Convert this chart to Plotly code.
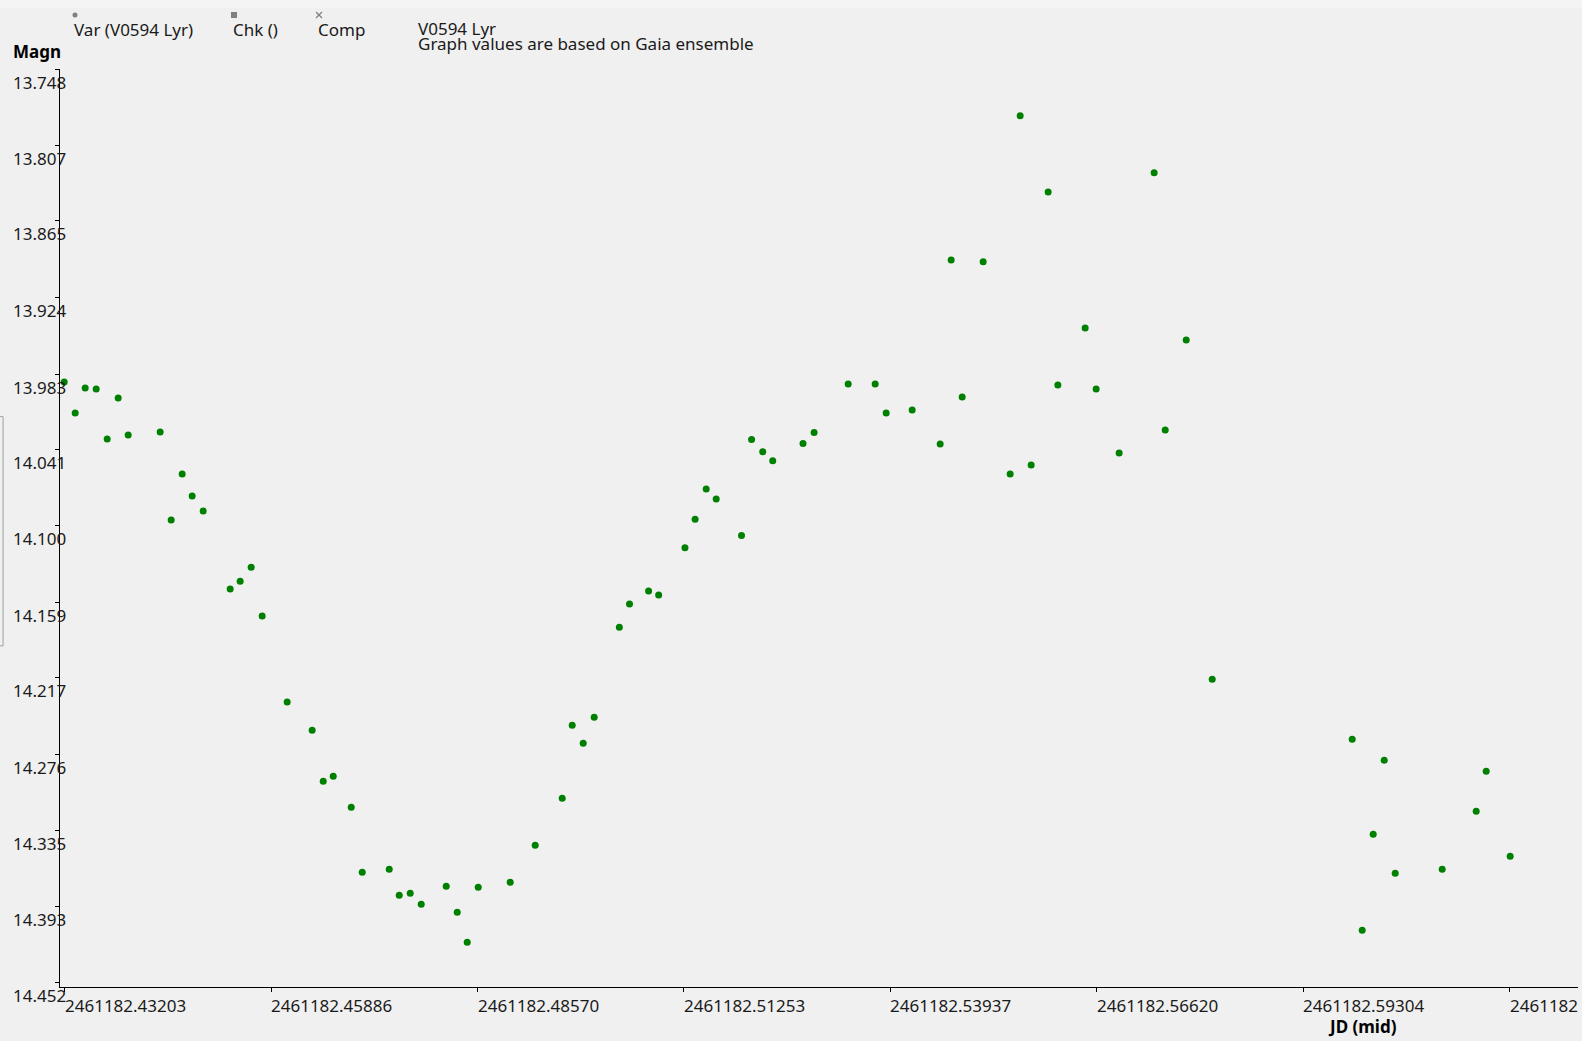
import plotly.graph_objects as go

# Var (V0594 Lyr) measurements: JD (mid) and magnitude
jd = [2461182.43195, 2461182.43338, 2461182.43468, 2461182.43611, 2461182.43754,
      2461182.43897, 2461182.44027, 2461182.44443, 2461182.44586, 2461182.44729,
      2461182.44859, 2461182.45002, 2461182.45353, 2461182.45483, 2461182.45626,
      2461182.45769, 2461182.46094, 2461182.46419, 2461182.46563, 2461182.46693,
      2461182.46927, 2461182.47070, 2461182.47421, 2461182.47551, 2461182.47694,
      2461182.47837, 2461182.48162, 2461182.48305, 2461182.48435, 2461182.48578,
      2461182.48994, 2461182.49319, 2461182.49670, 2461182.49800, 2461182.49943,
      2461182.50086, 2461182.50413, 2461182.50545, 2461182.50793, 2461182.50924,
      2461182.51266, 2461182.51398, 2461182.51542, 2461182.51672, 2461182.52001,
      2461182.52132, 2461182.52277, 2461182.52407, 2461182.52801, 2461182.52945,
      2461182.53388, 2461182.53739, 2461182.53882, 2461182.54220, 2461182.54584,
      2461182.54727, 2461182.54870, 2461182.55143, 2461182.55494, 2461182.55624,
      2461182.55767, 2461182.55988, 2461182.56114, 2461182.56469, 2461182.56612,
      2461182.56911, 2461182.57366, 2461182.57510, 2461182.57783, 2461182.58121,
      2461182.59941, 2461182.60071, 2461182.60214, 2461182.60357, 2461182.60500,
      2461182.61111, 2461182.61553, 2461182.61683, 2461182.61995]

magn = [13.9891, 14.0130, 13.9938, 13.9945, 14.0331, 14.0015, 14.0300, 14.0277,
        14.0955, 14.0601, 14.0770, 14.0886, 14.1487, 14.1426, 14.1318, 14.1695,
        14.2358, 14.2574, 14.2967, 14.2929, 14.3168, 14.3669, 14.3646, 14.3846,
        14.3831, 14.3916, 14.3777, 14.3977, 14.4208, 14.3784, 14.3746, 14.3461,
        14.3098, 14.2536, 14.2674, 14.2474, 14.1782, 14.1603, 14.1502, 14.1533,
        14.1168, 14.0950, 14.0716, 14.0794, 14.1074, 14.0335, 14.0429, 14.0499,
        14.0366, 14.0281, 13.9907, 13.9907, 14.0130, 14.0107, 14.0369, 13.8951,
        14.0007, 13.8966, 14.0601, 13.7841, 14.0531, 13.8427, 13.9915, 13.9475,
        13.9945, 14.0439, 13.8280, 14.0261, 13.9568, 14.2181, 14.2644, 14.4116,
        14.3376, 14.2805, 14.3677, 14.3646, 14.3199, 14.2890, 14.3545]

# axis ticks
y_ticks = [13.748, 13.807, 13.865, 13.924, 13.983, 14.041, 14.100,
           14.159, 14.217, 14.276, 14.335, 14.393, 14.452]
x_ticks = [2461182.43203, 2461182.45886, 2461182.48570, 2461182.51253,
           2461182.53937, 2461182.56620, 2461182.59304, 2461182.61987]
x_tick_text = ["2461182.43203", "2461182.45886", "2461182.48570", "2461182.51253",
               "2461182.53937", "2461182.56620", "2461182.59304", "2461182"]

FONT = "Noto Sans"
TXT = "#1a1a1a"
BG = "#f0f0f0"
GRAY = "#808080"

fig = go.Figure()

fig.add_trace(go.Scatter(x=jd, y=magn,
                         mode='markers',
                         name='Var (V0594 Lyr)',
                         marker=dict(color='#008000', size=7),
                         showlegend=False))

ann = []
# y tick labels: left aligned, sitting a bit below each tick
for v in y_ticks:
    ann.append(dict(xref='paper', yref='y', x=0, y=v, text=f"{v:.3f}",
                    xanchor='left', yanchor='middle', xshift=-49, yshift=-13,
                    showarrow=False, font=dict(family=FONT, size=17, color=TXT)))
# x tick labels: left aligned at each tick
for v, t in zip(x_ticks, x_tick_text):
    ann.append(dict(xref='x', yref='paper', x=v, y=0, text=t,
                    xanchor='left', yanchor='middle', xshift=-2, yshift=-18,
                    showarrow=False, font=dict(family=FONT, size=17, color=TXT)))

# axis titles
ann.append(dict(xref='paper', yref='paper', x=0, y=1, text='<b>Magn</b>',
                xanchor='left', yanchor='middle', xshift=-49, yshift=18,
                showarrow=False, font=dict(family=FONT, size=17, color='#000000')))
ann.append(dict(xref='paper', yref='paper', x=0.8583, y=0, text='<b>JD (mid)</b>',
                xanchor='center', yanchor='middle', yshift=-39,
                showarrow=False, font=dict(family=FONT, size=17, color='#000000')))

# legend-like header
legend_items = [("Var (V0594 Lyr)", 75), ("Chk ()", 234), ("Comp", 319)]
for label, px in legend_items:
    xp = (px - 60) / 1518
    ann.append(dict(xref='paper', yref='paper', x=xp, y=1, text=label,
                    xanchor='left', yanchor='middle', xshift=-3, yshift=40,
                    showarrow=False, font=dict(family=FONT, size=17, color=TXT)))

xp = (419 - 60) / 1518
ann.append(dict(xref='paper', yref='paper', x=xp, y=1, text='V0594 Lyr',
                xanchor='left', yanchor='middle', xshift=-3, yshift=41,
                showarrow=False, font=dict(family=FONT, size=17, color=TXT)))
ann.append(dict(xref='paper', yref='paper', x=xp, y=1,
                text='Graph values are based on Gaia ensemble',
                xanchor='left', yanchor='middle', xshift=-3, yshift=26,
                showarrow=False, font=dict(family=FONT, size=17, color=TXT)))

# legend symbols (circle, square, cross), sized in pixels
sym_y = (987 - 15) / 918
def sym_shape(kind, px, **kw):
    return dict(type=kind, xref='paper', yref='paper',
                xsizemode='pixel', ysizemode='pixel',
                xanchor=(px - 60) / 1518, yanchor=sym_y, **kw)

shapes = [
    sym_shape('circle', 75, x0=-2.5, x1=2.5, y0=-2.5, y1=2.5,
              fillcolor=GRAY, line=dict(width=0)),
    sym_shape('rect', 234, x0=-3, x1=3, y0=-3, y1=3,
              fillcolor=GRAY, line=dict(width=0)),
    sym_shape('line', 319, x0=-3, x1=3, y0=-3, y1=3, line=dict(color=GRAY, width=1.3)),
    sym_shape('line', 319, x0=-3, x1=3, y0=3, y1=-3, line=dict(color=GRAY, width=1.3)),
    # slightly lighter band along the very top
    dict(type='rect', xref='paper', yref='paper', x0=-0.04, x1=1.003,
         y0=1.0664, y1=1.0752, fillcolor='#f4f4f4', line=dict(width=0),
         layer='below'),
    # small bracket on the left edge
    dict(type='path', xref='paper', yref='paper',
         path='M -0.0395,0.6213 L -0.0375,0.6213 L -0.0375,0.3716 L -0.0395,0.3716',
         line=dict(color='#a0a0a0', width=1)),
]

fig.update_layout(
    width=1582, height=1041,
    margin=dict(l=60, r=4, t=69, b=54),
    paper_bgcolor=BG, plot_bgcolor=BG,
    showlegend=False,
    annotations=ann,
    shapes=shapes,
    xaxis=dict(range=[2461182.431406, 2461182.628767],
               tickvals=x_ticks, showticklabels=False,
               ticks='outside', ticklen=4, tickcolor='#000000',
               showline=True, linecolor='#000000', linewidth=1,
               showgrid=False, zeroline=False),
    yaxis=dict(range=[14.4553, 13.748],
               tickvals=y_ticks, showticklabels=False,
               ticks='outside', ticklen=4, tickcolor='#000000',
               showline=True, linecolor='#000000', linewidth=1,
               showgrid=False, zeroline=False),
)

fig.write_html("out.html",
               config={'displayModeBar': False},
               post_script="document.body.style.margin='0';document.body.style.background='#f0f0f0';")
